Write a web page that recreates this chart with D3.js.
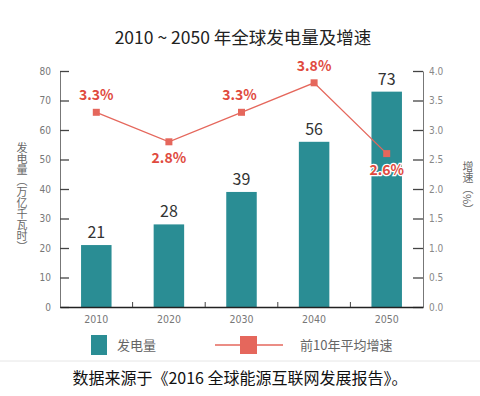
<!DOCTYPE html>
<html>
<head>
<meta charset="utf-8">
<script src="https://cdn.jsdelivr.net/npm/d3@7"></script>
<style>
  body { margin: 0; background: #fff; }
  svg { display: block; font-family: "Noto Sans CJK SC", "Noto Sans", sans-serif; }
</style>
</head>
<body>
<svg id="chart" width="480" height="396"></svg>
<script>
const YEARS = ["2010", "2020", "2030", "2040", "2050"];
const OUTPUT = [21, 28, 39, 56, 73];           // 万亿千瓦时
const GROWTH = [3.3, 2.8, 3.3, 3.8, 2.6];       // 前10年平均增速 %
const LEFT_TICKS = [0, 10, 20, 30, 40, 50, 60, 70, 80];
const RIGHT_TICKS = [0, 0.5, 1, 1.5, 2, 2.5, 3, 3.5, 4];

const BAR_COLOR = "#2a8d94";
const LINE_COLOR = "#e5675c";
const LABEL_RED = "#e04a3e";
const PLOT = { left: 60, right: 423, top: 71, bottom: 307 };

const svg = d3.select("#chart");

const x = d3.scaleBand().domain(YEARS).range([PLOT.left, PLOT.right]).paddingInner(0.58).paddingOuter(0.29);
const yL = d3.scaleLinear().domain([0, 80]).range([PLOT.bottom, PLOT.top]);
const yR = d3.scaleLinear().domain([0, 4]).range([PLOT.bottom, PLOT.top]);

// title
svg.append("text")
    .attr("x", 243).attr("y", 44)
    .attr("text-anchor", "middle")
    .attr("font-size", 17.5)
    .attr("fill", "#222")
    .text("2010 ~ 2050 年全球发电量及增速");

// left axis, ticks pointing inward
const leftAxis = svg.append("g")
    .attr("transform", `translate(${PLOT.left},0)`)
    .call(d3.axisLeft(yL).tickValues(LEFT_TICKS).tickSizeInner(-9).tickSizeOuter(0).tickPadding(9));
leftAxis.select(".domain").attr("stroke", "#777");
leftAxis.selectAll(".tick line").attr("stroke", "#444").attr("stroke-width", 1.3);
leftAxis.selectAll(".tick text").attr("fill", "#777").attr("font-size", 10).attr("font-family", "Liberation Sans Narrow, DejaVu Sans Condensed, sans-serif");

// right axis
const rightAxis = svg.append("g")
    .attr("transform", `translate(${PLOT.right},0)`)
    .call(d3.axisRight(yR).tickValues(RIGHT_TICKS).tickFormat(d3.format(".1f")).tickSizeInner(-10).tickSizeOuter(0).tickPadding(6));
rightAxis.select(".domain").attr("stroke", "#777");
rightAxis.selectAll(".tick line").attr("stroke", "#444").attr("stroke-width", 1.3);
rightAxis.selectAll(".tick text").attr("fill", "#888").attr("font-size", 10).attr("font-family", "Liberation Sans Narrow, DejaVu Sans Condensed, sans-serif");

// axis titles (vertical)
svg.append("text")
    .attr("x", 22).attr("y", (PLOT.top + PLOT.bottom) / 2 + 8)
    .attr("text-anchor", "middle")
    .style("writing-mode", "vertical-rl")
    .attr("font-size", 11)
    .attr("fill", "#666")
    .text("发电量（万亿千瓦时）");
svg.append("text")
    .attr("x", 468).attr("y", 188)
    .attr("text-anchor", "middle")
    .style("writing-mode", "vertical-rl")
    .attr("font-size", 11)
    .attr("fill", "#666")
    .text("增速（%）");

// bars
svg.append("g").selectAll("rect")
    .data(OUTPUT)
    .join("rect")
    .attr("x", (d, i) => x(YEARS[i]))
    .attr("y", d => yL(d))
    .attr("width", x.bandwidth())
    .attr("height", d => yL(0) - yL(d))
    .attr("fill", BAR_COLOR);

svg.append("g").selectAll("text")
    .data(OUTPUT)
    .join("text")
    .attr("x", (d, i) => x(YEARS[i]) + x.bandwidth() / 2)
    .attr("y", d => yL(d) - 7)
    .attr("text-anchor", "middle")
    .attr("font-size", 16)
    .attr("fill", "#333")
    .text(d => d);

// x axis
const xAxis = svg.append("g")
    .attr("transform", `translate(0,${PLOT.bottom})`)
    .call(d3.axisBottom(x).tickSize(0).tickPadding(9));
xAxis.select(".domain").attr("stroke", "#222").attr("stroke-width", 1.5);
xAxis.selectAll(".tick text").attr("fill", "#777").attr("font-size", 10.5).attr("font-family", "Liberation Sans Narrow, DejaVu Sans Condensed, sans-serif");
// small ticks between bands
svg.append("g").selectAll("line")
    .data(YEARS.slice(1))
    .join("line")
    .attr("x1", d => x(d) - x.step() * x.paddingInner() / 2)
    .attr("x2", d => x(d) - x.step() * x.paddingInner() / 2)
    .attr("y1", PLOT.bottom)
    .attr("y2", PLOT.bottom - 5)
    .attr("stroke", "#444");

// growth line
const cx = (d, i) => x(YEARS[i]) + x.bandwidth() / 2;
svg.append("path")
    .datum(GROWTH)
    .attr("fill", "none")
    .attr("stroke", LINE_COLOR)
    .attr("stroke-width", 1.3)
    .attr("d", d3.line().x(cx).y(d => yR(d)));

svg.append("g").selectAll("rect")
    .data(GROWTH)
    .join("rect")
    .attr("x", (d, i) => cx(d, i) - 3.5)
    .attr("y", d => yR(d) - 3.5)
    .attr("width", 7).attr("height", 7)
    .attr("fill", LINE_COLOR);

// growth labels: above or below the point
const LABEL_BELOW = [false, true, false, false, true];
svg.append("g").selectAll("text")
    .data(GROWTH)
    .join("text")
    .attr("x", (d, i) => cx(d, i) + (i === 2 ? -2 : 0))
    .attr("y", (d, i) => yR(d) + (LABEL_BELOW[i] ? 21 : -12))
    .attr("text-anchor", "middle")
    .attr("font-size", 14)
    .attr("font-weight", "bold")
    .attr("fill", LABEL_RED)
    .attr("stroke", "#fff")
    .attr("stroke-width", 2.5)
    .attr("paint-order", "stroke")
    .text(d => d3.format(".1f")(d) + "%");

// legend
const legend = svg.append("g");
legend.append("rect").attr("x", 91).attr("y", 335).attr("width", 16).attr("height", 20).attr("fill", BAR_COLOR);
legend.append("text").attr("x", 117).attr("y", 350).attr("font-size", 13).attr("fill", "#666").text("发电量");
legend.append("line").attr("x1", 215).attr("x2", 283).attr("y1", 345).attr("y2", 345).attr("stroke", LINE_COLOR).attr("stroke-width", 1.5);
legend.append("rect").attr("x", 240).attr("y", 336).attr("width", 17).attr("height", 18).attr("fill", LINE_COLOR);
legend.append("text").attr("x", 300).attr("y", 350).attr("font-size", 13).attr("fill", "#666").text("前10年平均增速");

// separator and source note
svg.append("line").attr("x1", 0).attr("x2", 480).attr("y1", 361).attr("y2", 361).attr("stroke", "#e6e6e6");
svg.append("text")
    .attr("x", 240).attr("y", 384)
    .attr("text-anchor", "middle")
    .attr("font-size", 16)
    .attr("fill", "#111")
    .text("数据来源于《2016 全球能源互联网发展报告》。");
</script>
</body>
</html>
